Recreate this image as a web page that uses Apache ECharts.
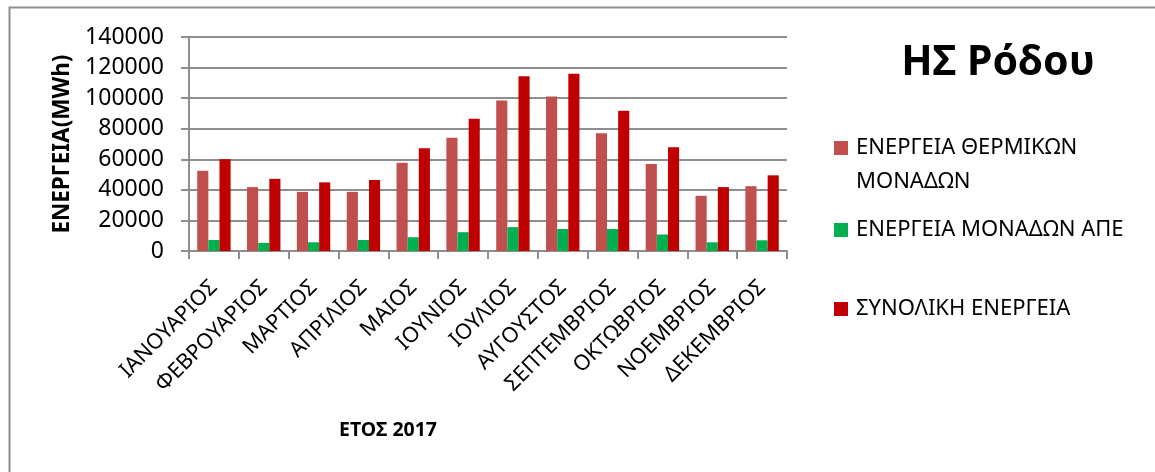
<!DOCTYPE html>
<html>
<head>
<meta charset="utf-8">
<script src="https://cdn.jsdelivr.net/npm/echarts@6/dist/echarts.min.js"></script>
<style>
  html, body { margin: 0; padding: 0; background: #ffffff; }
  #chart { width: 1155px; height: 472px; }
</style>
</head>
<body>
<div id="chart"></div>
<script>
// Monthly energy production, Rhodes power station, 2017 (MWh)
const months = ['ΙΑΝΟΥΑΡΙΟΣ', 'ΦΕΒΡΟΥΑΡΙΟΣ', 'ΜΑΡΤΙΟΣ', 'ΑΠΡΙΛΙΟΣ', 'ΜΑΙΟΣ', 'ΙΟΥΝΙΟΣ',
  'ΙΟΥΛΙΟΣ', 'ΑΥΓΟΥΣΤΟΣ', 'ΣΕΠΤΕΜΒΡΙΟΣ', 'ΟΚΤΩΒΡΙΟΣ', 'ΝΟΕΜΒΡΙΟΣ', 'ΔΕΚΕΜΒΡΙΟΣ'];
const thermal = [52500, 41800, 38700, 38700, 57700, 74100, 98400, 101000, 77000, 56900, 36100, 42400];
const renewable = [7200, 5300, 5700, 7200, 9000, 12300, 15600, 14400, 14400, 10800, 5700, 7000];
const total = [60000, 47200, 44900, 46400, 67200, 86600, 114400, 115900, 91800, 67800, 41800, 49500];
const yTicks = { min: 0, max: 140000, step: 20000 };

const seriesNames = ['ΕΝΕΡΓΕΙΑ ΘΕΡΜΙΚΩΝ ΜΟΝΑΔΩΝ', 'ΕΝΕΡΓΕΙΑ ΜΟΝΑΔΩΝ ΑΠΕ', 'ΣΥΝΟΛΙΚΗ ΕΝΕΡΓΕΙΑ'];
const seriesColors = ['#C0504D', '#00B050', '#C00000'];

const FONT = '"Noto Sans", "Open Sans", "DejaVu Sans", sans-serif';
const GRID_GRAY = '#8e8e8e';

const chart = echarts.init(document.getElementById('chart'), null, { renderer: 'canvas' });

function legendAt(i, top) {
  return {
    data: [seriesNames[i]],
    orient: 'vertical',
    left: 829,
    top: top,
    icon: 'rect',
    itemWidth: 14,
    itemHeight: 14,
    formatter: function (name) {
      // the first entry wraps onto two lines, with the marker beside the first line
      if (name === seriesNames[0]) return '\nΕΝΕΡΓΕΙΑ ΘΕΡΜΙΚΩΝ\nΜΟΝΑΔΩΝ';
      return name;
    },
    textStyle: {
      fontFamily: FONT,
      fontSize: 22,
      color: '#000000',
      lineHeight: 34,
      padding: [0, 0, 0, 3]
    }
  };
}

chart.setOption({
  animation: false,
  backgroundColor: '#ffffff',
  textStyle: { fontFamily: FONT },
  title: {
    text: 'ΗΣ Ρόδου',
    left: 993,
    top: 38,
    textAlign: 'center',
    textStyle: { fontFamily: FONT, fontSize: 41, fontWeight: 'bold', color: '#000000' }
  },
  legend: [legendAt(0, 92), legendAt(1, 208), legendAt(2, 287)],
  graphic: [{
    type: 'rect',
    shape: { x: 9.5, y: 7.5, width: 1300, height: 600 },
    style: { fill: 'none', stroke: GRID_GRAY, lineWidth: 2 },
    silent: true,
    z: -1
  }],
  grid: { left: 189, top: 37, width: 598, height: 214, containLabel: false },
  xAxis: {
    type: 'category',
    data: months,
    name: 'ΕΤΟΣ 2017',
    nameLocation: 'middle',
    nameGap: 169,
    nameTextStyle: {
      fontFamily: FONT, fontSize: 19.5, fontWeight: 'bold', color: '#000000',
      padding: [0, 200, 0, 0]
    },
    axisLine: { show: true, lineStyle: { color: GRID_GRAY, width: 2 } },
    axisTick: { show: true, alignWithLabel: false, length: 8, lineStyle: { color: GRID_GRAY, width: 2 } },
    axisLabel: {
      interval: 0,
      rotate: 45,
      margin: 33,
      fontFamily: FONT,
      fontSize: 21.5,
      color: '#000000'
    }
  },
  yAxis: {
    type: 'value',
    min: yTicks.min,
    max: yTicks.max,
    interval: yTicks.step,
    name: 'ΕΝΕΡΓΕΙΑ(MWh)',
    nameLocation: 'middle',
    nameGap: 112,
    nameRotate: 90,
    nameTextStyle: { fontFamily: FONT, fontSize: 22.5, fontWeight: 'bold', color: '#000000' },
    axisLine: { show: true, lineStyle: { color: GRID_GRAY, width: 2 } },
    axisTick: { show: true, inside: false, length: 8, lineStyle: { color: GRID_GRAY, width: 2 } },
    splitLine: { show: true, lineStyle: { color: GRID_GRAY, width: 2 } },
    axisLabel: {
      margin: 25,
      fontFamily: FONT,
      fontSize: 23,
      color: '#000000',
      formatter: function (v) { return String(v); }
    }
  },
  series: [thermal, renewable, total].map(function (values, i) {
    return {
      name: seriesNames[i],
      type: 'bar',
      data: values,
      barGap: '0%',
      barCategoryGap: '33%',
      itemStyle: { color: seriesColors[i] },
      emphasis: { disabled: true }
    };
  })
});
</script>
</body>
</html>
